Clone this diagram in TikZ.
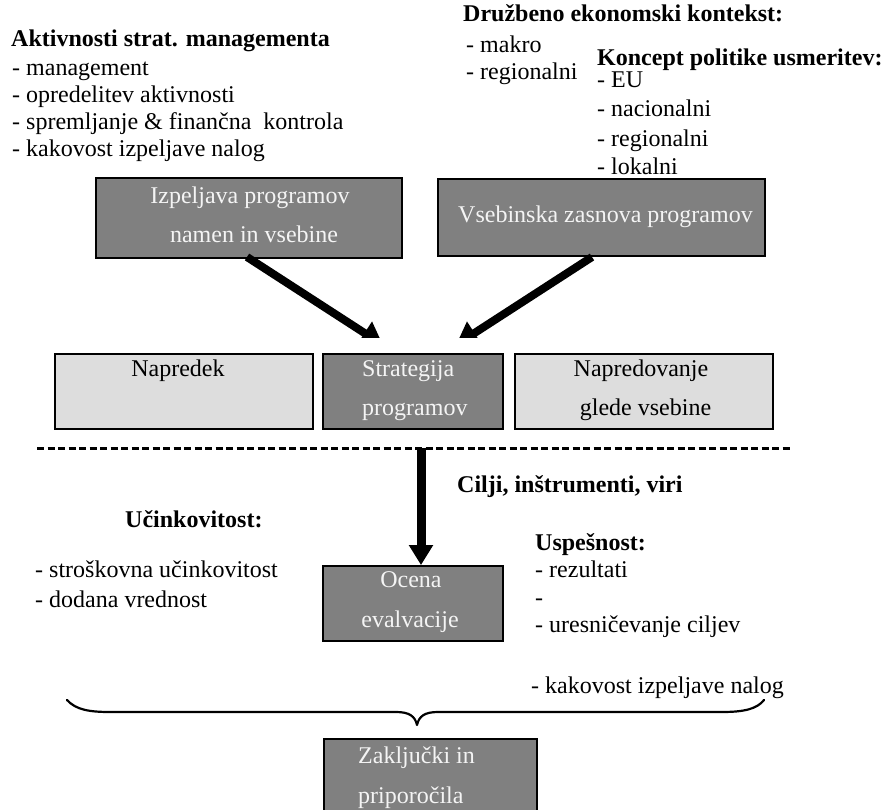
\documentclass[tikz,border=0pt]{standalone}
\usepackage{fontspec}
\setmainfont{Liberation Serif}
\usetikzlibrary{arrows.meta}
\definecolor{boxdark}{HTML}{808080}
\definecolor{boxlight}{HTML}{DDDDDD}
\definecolor{boxtext}{HTML}{F4F4F4}
\begin{document}
\begin{tikzpicture}[x=1pt,y=-1pt,
  txt/.style={font=\fontsize{24}{28}\selectfont, inner sep=0pt, anchor=base west},
  hd/.style={font=\fontsize{24}{28}\selectfont\bfseries, inner sep=0pt, anchor=base west},
  ctr/.style={font=\fontsize{24}{28}\selectfont, inner sep=0pt, anchor=base},
  wtxt/.style={ctr, text=boxtext},
  wleft/.style={txt, text=boxtext},
  darkbox/.style={draw=black, line width=1.8pt, fill=boxdark, inner sep=0pt},
  lightbox/.style={draw=black, line width=1.8pt, fill=boxlight, inner sep=0pt},
  flow/.style={line width=8pt, -{Triangle[length=22pt,width=26pt]}},
  flowdown/.style={line width=9pt, -{Triangle[length=20pt,width=23pt]}},
]
\useasboundingbox[fill=white] (0,0) rectangle (881,810);

% --- strategic management activities
\node[hd]  (akt)  at (11,47)  {Aktivnosti strat. managementa};
\node[txt] (akt1) at (12,76)  {- management};
\node[txt] (akt2) at (12,103) {- opredelitev aktivnosti};
\node[txt] (akt3) at (12,130) {- spremljanje \& finančna \ kontrola};
\node[txt] (akt4) at (12,157) {- kakovost izpeljave nalog};

% --- socio-economic context
\node[hd]  (dru)  at (463,22) {Družbeno ekonomski kontekst:};
\node[txt] (dru1) at (466,53) {- makro};
\node[txt] (dru2) at (466,80) {- regionalni};

% --- policy concept
\node[hd]  (kon)  at (597,66)  {Koncept politike usmeritev:};
\node[txt] (kon1) at (597,88)  {- EU};
\node[txt] (kon2) at (597,117) {- nacionalni};
\node[txt] (kon3) at (597,147) {- regionalni};
\node[txt] (kon4) at (597,175) {- lokalni};

% --- upper boxes
\node[darkbox, minimum width=306pt, minimum height=80pt] (izp) at (249,218) {};
\node[wtxt] (izpA) at (250,204) {Izpeljava programov};
\node[wtxt] (izpB) at (254,243) {namen in vsebine};

\node[darkbox, minimum width=327pt, minimum height=77pt] (vse) at (601.5,217.5) {};
\node[wtxt] (vseA) at (605.5,223) {Vsebinska zasnova programov};

% --- middle row
\node[lightbox, minimum width=258pt, minimum height=75pt] (nap) at (184,391.5) {};
\node[ctr] (napA) at (178,377) {Napredek};

\node[darkbox, minimum width=180pt, minimum height=75pt] (str) at (413,391.5) {};
\node[wleft] (strA) at (362,377) {Strategija};
\node[wleft] (strB) at (362,415) {programov};

\node[lightbox, minimum width=258pt, minimum height=75pt] (npv) at (644,391.5) {};
\node[ctr] (npvA) at (641,377) {Napredovanje};
\node[ctr] (npvB) at (645.5,415) {glede vsebine};

% --- thick arrows into the strategy box, heads cut flat above the row
\coordinate (a1s) at (247,257);
\coordinate (a1e) at (383,345);
\coordinate (a2s) at (592,257);
\coordinate (a2e) at (456,345);
\begin{scope}
  \clip (0,0) rectangle (881,338);
  \draw[flow] (a1s) -- (a1e);
  \draw[flow] (a2s) -- (a2e);
\end{scope}

% --- separator
\coordinate (sepL) at (37,448);
\coordinate (sepR) at (793,448);
\draw[line width=3pt, dash pattern=on 7pt off 3.5pt] (sepL) -- (sepR);

% --- evaluation
\node[darkbox, minimum width=180pt, minimum height=75pt] (oce) at (413,603.5) {};
\node[wtxt] (oceA) at (411,587) {Ocena};
\node[wtxt] (oceB) at (410,627) {evalvacije};

\coordinate (sepM) at (421,448);
\draw[flowdown] (sepM) -- (sepM |- oce.north);

\node[hd] (cil) at (457,492) {Cilji, inštrumenti, viri};

\node[hd]  (uci)  at (125,527) {Učinkovitost:};
\node[txt] (uci1) at (35,577)  {- stroškovna učinkovitost};
\node[txt] (uci2) at (35,607)  {- dodana vrednost};

\node[hd]  (usp)  at (535,550) {Uspešnost:};
\node[txt] (usp1) at (535,577) {- rezultati};
\node[txt] (usp2) at (535,605) {-};
\node[txt] (usp3) at (535,632) {- uresničevanje ciljev};
\node[txt] (usp4) at (531,693) {- kakovost izpeljave nalog};

% --- brace gathering everything above
\coordinate (brL) at (67,700);
\coordinate (brT) at (417,725);
\coordinate (brR) at (764,700);
\draw[line width=2.2pt, line cap=round, line join=round]
  (brL) .. controls (76,710) and (90,712) .. (110,712) -- (396,712)
  .. controls (409,712) and (415,716) .. (brT)
  .. controls (419,716) and (425,712) .. (438,712) -- (722,712)
  .. controls (744,712) and (757,709) .. (brR);

% --- conclusions
\node[darkbox, minimum width=213pt, minimum height=84pt, anchor=north west] (zak) at (323,738) {};
\node[wleft] (zakA) at (358,763) {Zaključki in};
\node[wleft] (zakB) at (358,803) {priporočila};

\end{tikzpicture}
\end{document}
